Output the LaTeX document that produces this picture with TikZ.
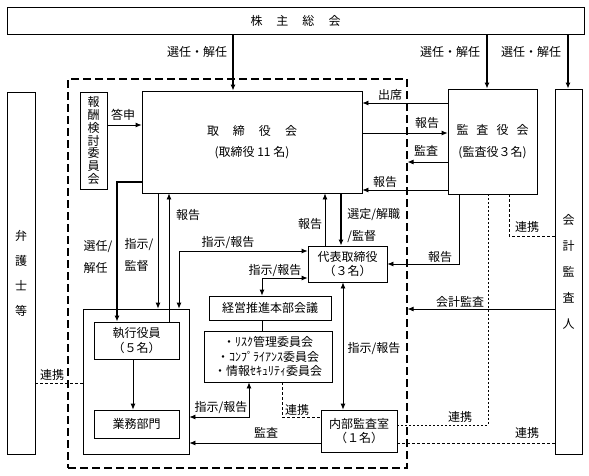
\documentclass[tikz,border=0pt]{standalone}
\usepackage{fontspec}
\setmainfont{Noto Sans CJK JP}
\usetikzlibrary{arrows.meta}
\newcommand{\orgbox}[6]{
	\node[box, minimum width=#4pt, minimum height=#5pt] (#1) at (#2pt,-#3pt) {#6};
}

\begin{document}
\begin{tikzpicture}[
		>={Latex[length=6pt,width=5pt]},
		box/.style={draw, line width=0.8pt, inner sep=0pt, align=center, font=\fontsize{12}{14.5}\selectfont},
		lbl/.style={inner sep=0pt, align=left, font=\fontsize{12}{22}\selectfont},
		strong/.style={line width=2.2pt},
		link/.style={line width=0.8pt, dash pattern=on 3pt off 2pt},
		fine/.style={line width=0.8pt, dash pattern=on 2pt off 2pt},
		every path/.style={line width=0.8pt}
	]
		\useasboundingbox (0,0) rectangle (589pt,-475pt);
		
		% outer frame of the company side
		\node[draw, line width=1.2pt, dash pattern=on 8pt off 4pt, minimum width=339pt, minimum height=389pt] (frame) at (237.5pt,-273.5pt) {};
		
		\orgbox{kabu}{295.5}{20.5}{577}{27}{株\hspace{14pt}主\hspace{14pt}総\hspace{14pt}会}
		\orgbox{tori}{252}{142}{220}{102}{取\hspace{14pt}締\hspace{14pt}役\hspace{14pt}会\\[6pt](取締役 11 名)}
		\orgbox{hoshu}{93.5}{140.5}{27}{97}{報\\[-1.8pt]酬\\[-1.8pt]検\\[-1.8pt]討\\[-1.8pt]委\\[-1.8pt]員\\[-1.8pt]会}
		\orgbox{kansa}{492.5}{141.5}{89}{105}{監\hspace{8pt}査\hspace{8pt}役\hspace{8pt}会\\[7pt](監査役３名)}
		\orgbox{kaikei}{568.5}{271.5}{27}{365}{会\\[11.5pt]計\\[11.5pt]監\\[11.5pt]査\\[11.5pt]人}
		\orgbox{bengo}{21}{273}{28}{362}{弁\\[10.5pt]護\\[10.5pt]士\\[10.5pt]等}
		\orgbox{daihyo}{347.5}{264}{79}{36}{代表取締役\\（３名）}
		\orgbox{keiei}{270}{308}{122}{24}{経営推進本部会議}
		\orgbox{iinkai}{268}{356.5}{128}{51}{・ﾘｽｸ管理委員会\\・ｺﾝﾌﾟﾗｲｱﾝｽ委員会\\・情報ｾｷｭﾘﾃｨ委員会}
		\orgbox{naibu}{359}{431}{76}{42}{内部監査室\\（１名）}
		\orgbox{shikkou}{136}{381.5}{106}{145}{}
		\orgbox{yakuin}{136.5}{340.5}{85}{37}{執行役員\\（５名）}
		\orgbox{gyomu}{136.5}{424}{85}{28}{業務部門}
		
		% from the shareholders
		\draw[strong,->] (kabu.south -| 233pt,0) -- (tori.north -| 233pt,0);
		\draw[strong,->] (kabu.south -| 487pt,0) -- (kansa.north -| 487pt,0);
		\draw[strong,->] (kabu.south -| 568pt,0) -- (kaikei.north -| 568pt,0);
		\node[lbl] (lab_s1) at (197pt,-52pt) {選任・解任};
		\node[lbl] (lab_s2) at (450pt,-52pt) {選任・解任};
		\node[lbl] (lab_s3) at (531pt,-52pt) {選任・解任};
		
		% board and auditors
		\draw[->] (hoshu.east |- 0,-125pt) -- (tori.west |- 0,-125pt);
		\node[lbl] (lab_toshin) at (123pt,-115pt) {答申};
		\draw[->] (kansa.west |- 0,-103pt) -- (tori.east |- 0,-103pt);
		\node[lbl] (lab_shusseki) at (390pt,-95pt) {出席};
		\draw[->] (tori.east |- 0,-133pt) -- (kansa.west |- 0,-133pt);
		\node[lbl] (lab_h1) at (427pt,-123pt) {報告};
		\draw[->] (kansa.west |- 0,-162pt) -- (frame.east |- 0,-162pt);
		\node[lbl] (lab_k1) at (426pt,-151pt) {監査};
		\draw[->] (kansa.west |- 0,-190pt) -- (tori.east |- 0,-190pt);
		\node[lbl] (lab_h2) at (385pt,-182pt) {報告};
		
		% board and executives
		\draw[strong,->] (tori.west |- 0,-182pt) -| (yakuin.north -| 117pt,0);
		\node[lbl] (lab_senin) at (98pt,-257pt) {選任/\\解任};
		\draw[->] (tori.south -| 158pt,0) -- (shikkou.north -| 158pt,0);
		\node[lbl] (lab_shiji) at (139pt,-255pt) {指示/\\監督};
		\draw[->] (yakuin.north -| 169pt,0) -- (tori.south -| 169pt,0);
		\node[lbl] (lab_h3) at (188pt,-215pt) {報告};
		\draw[<->] (daihyo.west |- 0,-251pt) -| (shikkou.north -| 179pt,0);
		\node[lbl] (lab_sh1) at (228pt,-243pt) {指示/報告};
		
		% representative directors
		\draw[->] (daihyo.north -| 325pt,0) -- (tori.south -| 325pt,0);
		\node[lbl] (lab_h4) at (310pt,-224pt) {報告};
		\draw[strong,->] (tori.south -| 341pt,0) -- (daihyo.north -| 341pt,0);
		\node[lbl, anchor=west] (lab_sentei) at (347pt,-226pt) {選定/解職\\/監督};
		\draw[->] (kansa.south -| 459pt,0) |- (daihyo.east);
		\node[lbl] (lab_h5) at (440pt,-257pt) {報告};
		\draw[<->] (daihyo.west |- 0,-278pt) -| (keiei.north -| 262pt,0);
		\node[lbl] (lab_sh2) at (275pt,-271pt) {指示/報告};
		\draw (keiei.south -| 262pt,0) -- (iinkai.north -| 262pt,0);
		\draw[<->] (daihyo.south -| 343pt,0) -- (naibu.north -| 343pt,0);
		\node[lbl] (lab_sh3) at (374pt,-349pt) {指示/報告};
		
		% committees and internal audit
		\draw[<->] (iinkai.south -| 249pt,0) |- (shikkou.east |- 0,-417pt);
		\node[lbl] (lab_sh4) at (221pt,-408pt) {指示/報告};
		\draw[link] (iinkai.south -| 282pt,0) |- (naibu.west |- 0,-417pt);
		\node[lbl] (lab_r1) at (297pt,-410pt) {連携};
		\draw[->] (naibu.west |- 0,-443pt) -- (shikkou.east |- 0,-443pt);
		\node[lbl] (lab_k2) at (266pt,-433pt) {監査};
		\draw[->] (yakuin.south -| 133pt,0) -- (gyomu.north -| 133pt,0);
		
		% cooperation with the outside
		\draw[link] (bengo.east |- 0,-383pt) -- (shikkou.west |- 0,-383pt);
		\node[lbl] (lab_r2) at (52pt,-375pt) {連携};
		\draw[->] (kaikei.west |- 0,-309pt) -- (frame.east |- 0,-309pt);
		\node[lbl] (lab_kaikei) at (460pt,-302pt) {会計監査};
		\draw[fine] (kansa.south -| 488pt,0) |- (naibu.east |- 0,-425pt);
		\node[lbl] (lab_r3) at (460pt,-417pt) {連携};
		\draw[link] (kansa.south -| 509pt,0) |- (kaikei.west |- 0,-236pt);
		\node[lbl] (lab_r4) at (527pt,-227pt) {連携};
		\draw[link] (naibu.east |- 0,-443pt) -- (kaikei.west |- 0,-443pt);
		\node[lbl] (lab_r5) at (527pt,-433pt) {連携};
	\end{tikzpicture}
\end{document}
